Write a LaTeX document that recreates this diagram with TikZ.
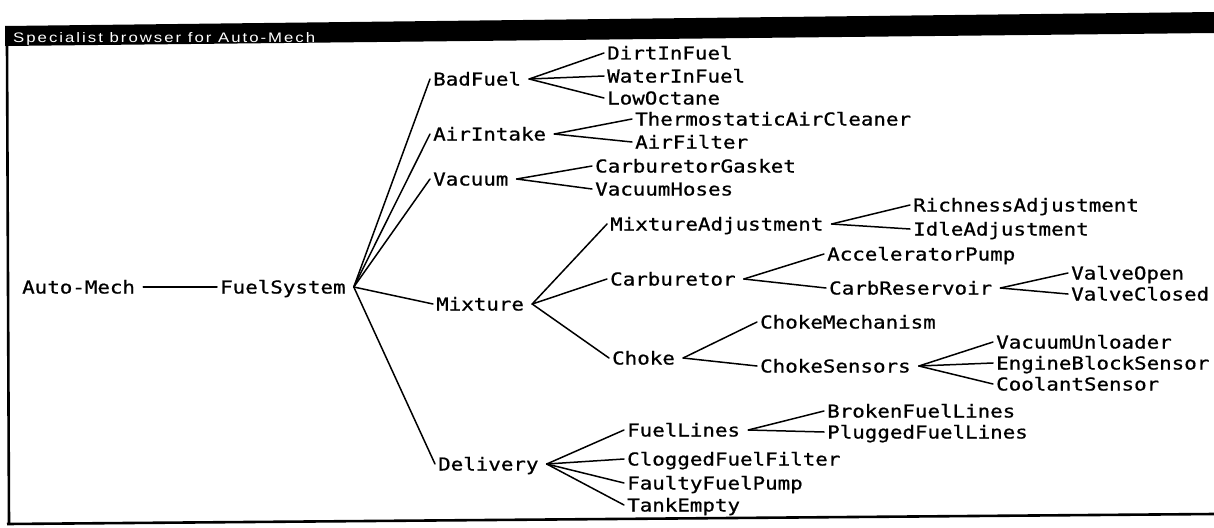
\documentclass[tikz,border=0pt]{standalone}
\usepackage{graphicx}
\usepackage{fontspec}
\newfontfamily\gacha[FakeStretch=1.17,FakeBold=0.8]{DejaVu Sans Mono}
\newfontfamily\titlef[LetterSpace=12]{Liberation Sans}
\newcommand\lnkk[2]{\draw[lnk] ([xshift=8pt]#1.east) -- ([xshift=-3pt]#2.west);}
\begin{document}
\begin{tikzpicture}[x=1pt,y=-1pt,
  lbl/.style={anchor=west, inner sep=0pt, text height=13pt, text depth=0pt,
              font=\gacha\fontsize{17.8}{18}\selectfont},
  lnk/.style={line width=1.5pt, line cap=round},
  frame/.style={line width=2.6pt}]
\useasboundingbox (0,0) rectangle (1214,527);
\fill[white] (0,0) rectangle (1214,527);
% window
\fill[black] (5,26) -- (1214,12) -- (1214,33) -- (5,46) -- cycle;
\node[anchor=base west, inner sep=0pt, text=white] (title) at (13,42)
  {\resizebox{302pt}{10pt}{\titlef Specialist browser for Auto-Mech}};
\draw[frame] (7,44) -- (9,524);
\draw[frame] (7,524) -- (1214,514);
% nodes
\node[lbl] (am)  at (22,287)  {Auto-Mech};
\node[lbl] (fs)  at (220,287) {FuelSystem};
\node[lbl] (bf)  at (433,79)  {BadFuel};
\node[lbl] (ai)  at (433,134) {AirIntake};
\node[lbl] (va)  at (433,179) {Vacuum};
\node[lbl] (mx)  at (436,304) {Mixture};
\node[lbl] (de)  at (438,464) {Delivery};
\node[lbl] (dif) at (607,53)  {DirtInFuel};
\node[lbl] (wif) at (607,76)  {WaterInFuel};
\node[lbl] (lo)  at (607,98)  {LowOctane};
\node[lbl] (tac) at (635,119) {ThermostaticAirCleaner};
\node[lbl] (af)  at (635,142) {AirFilter};
\node[lbl] (cg)  at (595,166) {CarburetorGasket};
\node[lbl] (vh)  at (595,189) {VacuumHoses};
\node[lbl] (ma)  at (610,224) {MixtureAdjustment};
\node[lbl] (ca)  at (610,279) {Carburetor};
\node[lbl] (ch)  at (612,358) {Choke};
\node[lbl] (ra)  at (913,205) {RichnessAdjustment};
\node[lbl] (ia)  at (913,229) {IdleAdjustment};
\node[lbl] (ap)  at (827,254) {AcceleratorPump};
\node[lbl] (cr)  at (829,288) {CarbReservoir};
\node[lbl] (vo)  at (1071,273) {ValveOpen};
\node[lbl] (vc)  at (1071,294) {ValveClosed};
\node[lbl] (cm)  at (760,322) {ChokeMechanism};
\node[lbl] (cs)  at (760,366) {ChokeSensors};
\node[lbl] (vu)  at (996,342) {VacuumUnloader};
\node[lbl] (eb)  at (996,363) {EngineBlockSensor};
\node[lbl] (co)  at (996,384) {CoolantSensor};
\node[lbl] (fl)  at (627,430) {FuelLines};
\node[lbl] (cf)  at (627,459) {CloggedFuelFilter};
\node[lbl] (fp)  at (627,483) {FaultyFuelPump};
\node[lbl] (te)  at (627,505) {TankEmpty};
\node[lbl] (bl)  at (827,411) {BrokenFuelLines};
\node[lbl] (pl)  at (827,432) {PluggedFuelLines};
% connectors
\lnkk{am}{fs}
\lnkk{fs}{bf}\lnkk{fs}{ai}\lnkk{fs}{va}\lnkk{fs}{mx}\lnkk{fs}{de}
\lnkk{bf}{dif}\lnkk{bf}{wif}\lnkk{bf}{lo}
\lnkk{ai}{tac}\lnkk{ai}{af}
\lnkk{va}{cg}\lnkk{va}{vh}
\lnkk{mx}{ma}\lnkk{mx}{ca}\lnkk{mx}{ch}
\lnkk{ma}{ra}\lnkk{ma}{ia}
\lnkk{ca}{ap}\lnkk{ca}{cr}
\lnkk{cr}{vo}\lnkk{cr}{vc}
\lnkk{ch}{cm}\lnkk{ch}{cs}
\lnkk{cs}{vu}\lnkk{cs}{eb}\lnkk{cs}{co}
\lnkk{de}{fl}\lnkk{de}{cf}\lnkk{de}{fp}\lnkk{de}{te}
\lnkk{fl}{bl}\lnkk{fl}{pl}
\end{tikzpicture}
\end{document}
